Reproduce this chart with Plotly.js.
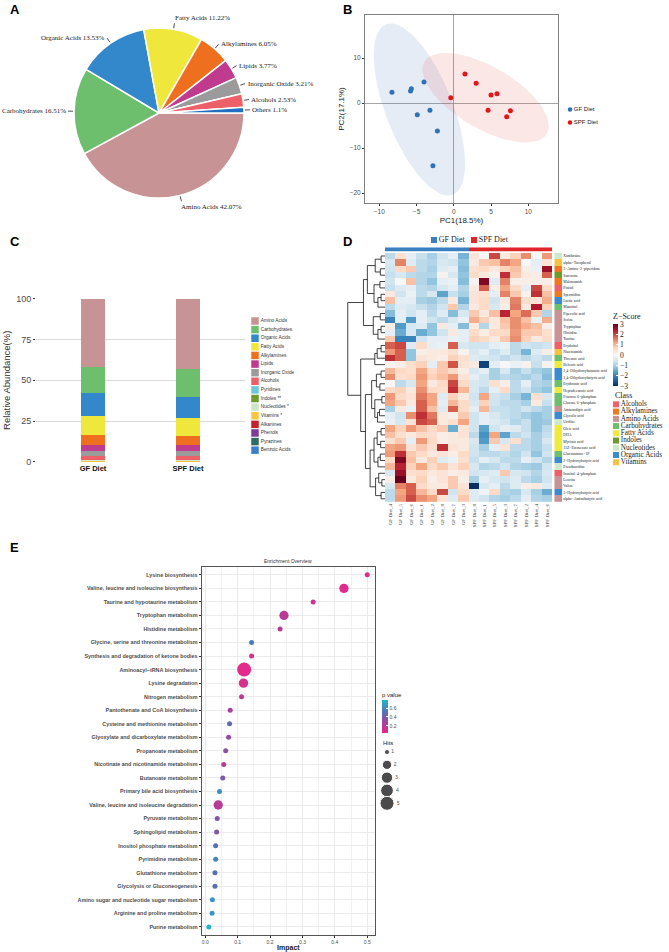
<!DOCTYPE html>
<html><head><meta charset="utf-8">
<script src="https://cdn.plot.ly/plotly-3.0.1.min.js"></script>
<style>html,body{margin:0;padding:0;background:#fff}</style>
</head><body><div id="chart" style="width:669px;height:952px"></div>
<script>
// ---------------- DATA ----------------
// Panel A
const pieLabels = ['Amino Acids','Carbohydrates','Organic Acids','Fatty Acids','Alkylamines','Lipids','Inorganic Oxide','Alcohols','Others'];
const pieValues = [42.07,16.51,13.53,11.22,6.05,3.77,3.21,2.53,1.1];
const pieColors = ['#C79395','#6DBE6D','#3288CB','#F0E73C','#EE6F1E','#C03A8E','#9B9B9B','#EE6068','#1F6EBF'];

// Panel B
const gfPC1 = [-8.3,-5.7,-5.8,-4.0,-3.2,-4.9,-2.2,-2.8];
const gfPC2 = [2.4,3.2,2.7,4.7,-1.6,-2.6,-6.2,-13.9];
const spfPC1 = [-0.4,1.5,3.0,5.0,5.8,4.6,7.6,7.1];
const spfPC2 = [1.2,6.5,4.4,1.8,2.1,-1.6,-1.7,-3.0];
const groupNames = ['GF Diet','SPF Diet'];
const F_095_2_7 = 4.737; // qf(0.95, 2, n-1) for n = 8

// Panel C
const barX = ['GF Diet','SPF Diet'];
const barCategories = ['Amino Acids','Carbohydrates','Organic Acids','Fatty Acids','Alkylamines','Lipids','Inorganic Oxide','Alcohols','Pyridines','Indoles **','Nucleotides *','Vitamins *','Alkanines','Phenols','Pyrazines','Benzoic Acids'];
const barGF  = [41.7,16.0,14.0,11.8,6.3,3.7,3.2,2.1,0.15,0.2,0.45,0.25,0.05,0.04,0.03,0.03];
const barSPF = [42.9,17.1,13.0,10.9,5.7,3.7,3.4,2.1,0.15,0.1,0.55,0.3,0.04,0.03,0.02,0.01];
const barColors = ['#C79395','#6DBE6D','#3288CB','#F0E73C','#EE6F1E','#C03A8E','#9B9B9B','#EE6068','#6EC6D6','#6E9A2E','#CDE6C8','#F7C744','#C3222A','#7E3D98','#2E6B66','#3C7FC6'];

// Panel D
const colNames = ['GF Diet_4','GF Diet_5','GF Diet_6','GF Diet_1','GF Diet_2','GF Diet_8','GF Diet_7','GF Diet_3','SPF Diet_8','SPF Diet_1','SPF Diet_5','SPF Diet_3','SPF Diet_7','SPF Diet_2','SPF Diet_4','SPF Diet_6'];
const rowNames = ['Xanthosine','alpha−Tocopherol','3−Amino−2−piperidone','Sarcosine','Malonamide','Pinitol','Spermidine','Lactic acid','Mannitol','Pipecolic acid','Serine','Tryptophan','Histidine','Taurine','Erythritol','Niacinamide','Threonic acid','Behenic acid','2,4−Dihydroxybutanoic acid','3,4−Dihydroxybutyric acid','Erythronic acid','Heptadecanoic acid','Fructose 6−phosphate','Glucose 6−phosphate','Aminoadipic acid','Glycolic acid','Uridine','Oleic acid','DHA','Myristic acid','11Z−Eicosenoic acid','Glucosamine−1P','2−Hydroxybutyric acid','Pseudouridine','Inositol−4−phosphate','Leucine','Valine','3−Hydroxybutyric acid','alpha−Aminobutyric acid'];
const rowClass = ['Nucleotides','Vitamins','Alkylamines','Indoles','Alkylamines','Alcohols','Alkylamines','Organic Acids','Carbohydrates','Amino Acids','Amino Acids','Amino Acids','Amino Acids','Amino Acids','Alcohols','Vitamins','Carbohydrates','Fatty Acids','Organic Acids','Organic Acids','Carbohydrates','Fatty Acids','Carbohydrates','Carbohydrates','Amino Acids','Organic Acids','Nucleotides','Fatty Acids','Fatty Acids','Fatty Acids','Fatty Acids','Carbohydrates','Organic Acids','Nucleotides','Alcohols','Amino Acids','Amino Acids','Organic Acids','Amino Acids'];
const classNames = ['Alcohols','Alkylamines','Amino Acids','Carbohydrates','Fatty Acids','Indoles','Nucleotides','Organic Acids','Vitamins'];
const classColors = ['#F0606A','#F07820','#C99294','#6CBF6C','#F0EA3C','#6E9A2E','#CFE8C9','#3A8BD0','#F5C243'];
const zScores = [
 [-0.8,0.5,-0.3,-0.7,-1.0,-0.6,-0.3,-1.4,0.4,0.0,2.0,0.3,0.7,1.4,0.0,1.3],
 [-0.5,1.5,-0.4,-0.8,-0.9,-0.5,-0.6,-1.2,0.3,0.8,0.9,1.5,1.2,0.0,-0.3,0.4],
 [-0.6,0.6,0.8,-0.8,-1.0,-0.4,-0.3,-1.3,0.5,0.6,0.3,0.7,0.9,0.2,-0.2,2.6],
 [-0.7,-0.5,-0.8,-0.9,-0.9,0.1,-0.5,-1.2,0.6,0.3,0.1,2.2,0.8,0.3,0.2,1.8],
 [-0.6,0.0,0.9,-0.9,-1.2,-0.3,-0.2,-1.3,0.1,2.8,-0.4,1.5,0.2,0.2,0.2,0.2],
 [-0.7,-0.4,-0.3,-0.8,-0.9,-0.5,-0.3,-0.9,0.3,1.8,0.2,1.2,0.6,-0.3,2.0,0.6],
 [0.3,-0.6,-0.2,-0.8,-0.5,-1.6,-0.7,-1.0,0.4,0.5,-0.3,1.5,0.8,0.1,2.2,0.9],
 [0.9,-0.3,-0.3,-1.0,-1.1,-0.8,0.3,-1.4,0.4,0.6,-0.6,0.3,1.5,0.5,0.4,1.1],
 [-0.8,-0.4,-0.5,-0.7,-0.9,-0.6,0.8,-0.9,0.3,0.6,-0.5,0.2,1.6,0.3,2.4,0.7],
 [-1.3,-0.3,-0.6,-0.3,-0.8,-0.4,-1.3,-0.5,0.8,0.3,0.9,2.3,1.2,1.7,0.8,-0.9],
 [-2.0,-0.3,-1.7,-0.3,-0.6,-0.8,-0.5,-0.2,1.1,0.7,0.3,0.9,1.4,0.9,-0.2,1.1],
 [0.2,-1.7,-0.5,-0.4,-1.2,0.3,-0.3,-1.3,0.3,-0.9,0.3,0.8,1.4,1.1,0.9,0.2],
 [-0.3,-1.5,-0.5,-1.5,-1.2,-0.6,0.3,-0.3,0.6,0.2,0.6,0.6,1.3,0.8,0.8,0.5],
 [0.8,-2.0,-2.0,-0.6,-0.3,-0.3,-0.2,-0.3,0.7,0.6,0.3,0.8,1.4,0.7,0.3,0.6],
 [1.8,2.0,-0.4,0.6,-0.3,-0.2,1.8,-0.5,-0.6,-0.6,-0.3,-0.2,-0.8,-0.6,-0.7,-0.6],
 [1.3,1.8,-1.2,0.2,0.3,0.3,0.5,0.1,-0.5,-0.3,-0.7,-0.4,-0.8,-1.4,-0.4,0.2],
 [2.2,1.8,-1.2,0.4,0.3,0.2,0.7,0.5,-0.4,-0.5,-0.6,-0.8,-0.6,-0.8,-0.6,-0.8],
 [0.1,0.2,0.5,0.7,-0.3,0.8,1.9,0.4,0.3,-2.8,-0.3,0.0,-0.2,0.1,-0.7,0.1],
 [1.0,0.6,0.5,1.2,0.6,0.8,0.6,0.2,-0.5,-0.3,-1.0,-0.5,-1.0,-0.7,-1.0,-1.2],
 [1.4,0.5,0.6,1.3,0.7,0.9,1.3,0.4,-0.3,-0.6,-1.0,-0.8,-0.9,-1.0,-0.8,-1.3],
 [0.0,-0.8,-0.5,1.2,0.3,0.6,2.0,0.6,-0.5,-0.6,0.5,0.2,-0.8,-0.3,-0.9,-1.0],
 [0.6,0.7,0.3,1.4,0.6,0.5,2.2,1.0,-0.5,-0.8,-0.3,0.6,-0.8,-0.6,-1.0,-1.2],
 [1.3,0.6,0.4,1.6,1.2,-0.4,0.7,0.3,-0.6,1.2,-0.6,-0.7,-1.0,-1.4,0.5,-0.5],
 [1.2,0.8,0.3,1.8,1.2,-0.3,1.0,0.6,-0.5,0.7,-0.6,-0.8,-0.8,-1.0,0.3,-0.7],
 [-1.0,0.3,-0.2,1.8,0.9,-0.4,1.8,0.6,-0.3,1.0,-0.7,-0.7,-0.8,-0.6,-0.8,-1.0],
 [-0.3,-0.6,1.4,2.2,1.6,0.3,0.2,0.8,-0.6,-0.3,-0.5,-0.7,-0.8,-1.0,-1.2,-1.0],
 [-0.2,-0.5,0.4,2.0,1.8,0.3,0.5,1.2,-0.6,-0.3,-0.4,-0.6,-0.9,-0.7,-1.2,-1.1],
 [1.2,0.7,1.3,0.9,0.6,0.8,-1.5,0.4,-0.6,-1.6,-0.6,-0.3,-0.4,-0.7,-1.2,-0.8],
 [0.9,0.5,0.3,0.6,0.5,0.2,0.3,0.4,-0.8,-1.8,1.2,-1.6,-0.8,-0.6,-1.0,-0.7],
 [0.5,0.8,-0.3,1.3,0.6,0.2,0.3,0.3,-0.5,-1.7,0.8,-0.5,0.5,-0.8,-1.0,-0.5],
 [1.2,1.3,0.4,0.8,0.5,2.2,0.4,0.3,-0.6,-1.0,-0.3,0.4,-0.8,-0.8,-1.0,-0.7],
 [1.3,2.2,0.8,0.6,0.3,0.4,0.2,0.6,-0.6,-0.8,-0.8,-0.7,-0.9,-0.6,-1.2,-0.6],
 [0.6,2.8,0.9,0.3,0.7,-0.4,-0.2,0.5,-0.7,-0.3,-0.5,-0.8,-0.8,-0.3,-0.6,-0.9],
 [1.0,2.3,0.7,1.2,0.6,0.8,0.4,0.7,-0.5,-0.9,-0.8,-0.6,-0.9,-1.0,-1.1,-0.6],
 [-0.5,2.6,0.5,0.6,0.3,0.4,0.2,0.3,-0.6,-0.5,-0.4,0.8,-0.5,-0.6,-0.9,-0.5],
 [0.2,3.0,0.3,0.7,0.2,0.4,0.8,0.2,-1.0,-0.3,-0.5,-0.6,-0.4,-0.8,-1.0,-0.6],
 [-0.5,1.5,1.8,0.6,0.3,0.3,0.8,0.4,-3.0,-0.5,-0.3,-0.8,-0.4,0.2,0.3,-0.4],
 [-0.8,1.2,1.8,1.0,0.6,2.0,-0.6,0.6,-0.4,-0.1,0.6,-0.9,-1.0,-0.5,-1.0,-1.5],
 [-0.8,1.3,2.0,1.4,1.2,0.4,-0.4,0.8,-0.4,-0.6,-0.9,-1.0,-0.8,-0.3,-0.9,-1.0]
];
// dendrogram: [height, left, right]; leaves are row indices
const dendroTree = [9.5,
  [5.5,
    [4.5,
      [2.5,[1.0,0,1],[1.2,2,3]],
      [2.8,[1.3,4,5],[1.8,[1.0,6,7],8]]
    ],
    [3.0,[1.2,9,10],[1.8,[1.0,11,12],13]]
  ],
  [6.2,
    [2.6,[2.0,[1.0,14,15],16],17],
    [5.0,
      [3.4,[2.2,[1.0,18,19],[1.3,20,21]],[2.6,[0.8,22,23],[1.9,[1.4,24,25],26]]],
      [3.8,[2.8,[2.0,[1.0,27,28],[1.1,29,30]],[1.8,[1.2,31,32],33]],[2.4,[1.6,34,[0.8,35,36]],[1.0,37,38]]]
    ]
  ]
];
const groupColors = ['#3A7FC0','#E0262A'];

// Panel E
const pathways = ['Lysine biosynthesis','Valine, leucine and isoleucine biosynthesis','Taurine and hypotaurine metabolism','Tryptophan metabolism','Histidine metabolism','Glycine, serine and threonine metabolism','Synthesis and degradation of ketone bodies','Aminoacyl−tRNA biosynthesis','Lysine degradation','Nitrogen metabolism','Pantothenate and CoA biosynthesis','Cysteine and methionine metabolism','Glyoxylate and dicarboxylate metabolism','Propanoate metabolism','Nicotinate and nicotinamide metabolism','Butanoate metabolism','Primary bile acid biosynthesis','Valine, leucine and isoleucine degradation','Pyruvate metabolism','Sphingolipid metabolism','Inositol phosphate metabolism','Pyrimidine metabolism','Glutathione metabolism','Glycolysis or Gluconeogenesis','Amino sugar and nucleotide sugar metabolism','Arginine and proline metabolism','Purine metabolism'];
const impact = [0.50,0.428,0.333,0.243,0.231,0.143,0.143,0.120,0.118,0.112,0.077,0.075,0.072,0.063,0.057,0.054,0.044,0.040,0.037,0.035,0.032,0.032,0.030,0.030,0.022,0.021,0.011];
const hits = [1,2,1,2,1,1,1,5,2,1,1,1,1,1,1,1,1,2,1,1,1,1,1,1,1,1,1];
const pvals = [0.08,0.06,0.12,0.20,0.22,0.55,0.12,0.05,0.10,0.18,0.25,0.45,0.32,0.35,0.20,0.40,0.62,0.20,0.38,0.38,0.50,0.60,0.50,0.50,0.65,0.65,0.75];
const hitLevels = [1,2,3,4,5];

// ---------------- HELPERS ----------------
const W = 669, H = 952;
const X = (a,b) => [a/W, b/W];
const Y = (t,b) => [1-b/H, 1-t/H];
const serif = 'Liberation Serif, Times New Roman, serif';
const sans = 'Liberation Sans, Arial, sans-serif';
const hitSize = {1:5, 2:9.3, 3:11.3, 4:12.7, 5:14};

const traces = [];
const annotations = [];
const shapes = [];

// ---------------- A: PIE ----------------
const pieC = [159,113], pieR = 85;
traces.push({type:'pie', labels:pieLabels, values:pieValues, sort:false, direction:'clockwise', rotation:90,
  marker:{colors:pieColors, line:{color:'#ffffff', width:1.5}}, textinfo:'none', hoverinfo:'label+value',
  domain:{x:X(pieC[0]-pieR, pieC[0]+pieR), y:Y(pieC[1]-pieR, pieC[1]+pieR)}, showlegend:false});
(function(){
  const tot = pieValues.reduce((a,b)=>a+b,0); let cum = 0;
  pieValues.forEach((v,i)=>{
    const a = (cum + v/2)/tot*2*Math.PI; cum += v;
    const c = Math.cos(a), s = Math.sin(a);
    const x0 = pieC[0] + (pieR+1)*c, y0 = pieC[1] + (pieR+1)*s;
    const x1 = pieC[0] + (pieR+6)*c, y1 = pieC[1] + (pieR+6)*s;
    shapes.push({type:'line', xref:'paper', yref:'paper', x0:x0/W, y0:1-y0/H, x1:x1/W, y1:1-y1/H, line:{color:'#222', width:0.8}});
    const vert = Math.abs(s) > 0.9;
    const tx = x1 + (vert ? -1 : (c>=0 ? 1.5 : -1.5));
    const ty = y1 + (vert ? (s<0 ? -0.5 : 0.5) : 0);
    annotations.push({xref:'paper', yref:'paper', x:tx/W, y:1-ty/H, text:pieLabels[i]+' '+v+'%', showarrow:false,
      xanchor: (c>=0 || vert) ? 'left' : 'right', yanchor: vert ? (s<0?'bottom':'top') : 'middle',
      font:{family:serif, size:7, color:'#222'}, borderpad:0});
  });
})();

// ---------------- B: PCA ----------------
function ellipse(xs, ys){
  const n = xs.length;
  const mx = xs.reduce((a,b)=>a+b,0)/n, my = ys.reduce((a,b)=>a+b,0)/n;
  let sxx=0, syy=0, sxy=0;
  for(let i=0;i<n;i++){ sxx+=(xs[i]-mx)**2; syy+=(ys[i]-my)**2; sxy+=(xs[i]-mx)*(ys[i]-my); }
  sxx/=(n-1); syy/=(n-1); sxy/=(n-1);
  const l11 = Math.sqrt(sxx), l21 = sxy/l11, l22 = Math.sqrt(syy - l21*l21);
  const sc = Math.sqrt(2*F_095_2_7);
  const ex=[], ey=[];
  for(let k=0;k<=100;k++){ const t=k/100*2*Math.PI; ex.push(mx+sc*l11*Math.cos(t)); ey.push(my+sc*(l21*Math.cos(t)+l22*Math.sin(t))); }
  return [ex, ey];
}
const eg = ellipse(gfPC1, gfPC2), es = ellipse(spfPC1, spfPC2);
traces.push({type:'scatter', mode:'lines', x:eg[0], y:eg[1], fill:'toself', fillcolor:'rgba(70,120,190,0.14)', line:{width:0}, hoverinfo:'skip', xaxis:'x', yaxis:'y'});
traces.push({type:'scatter', mode:'lines', x:es[0], y:es[1], fill:'toself', fillcolor:'rgba(232,70,70,0.13)', line:{width:0}, hoverinfo:'skip', xaxis:'x', yaxis:'y'});
traces.push({type:'scatter', mode:'markers', x:gfPC1, y:gfPC2, name:groupNames[0], marker:{color:'#2F72B5', size:5}, xaxis:'x', yaxis:'y'});
traces.push({type:'scatter', mode:'markers', x:spfPC1, y:spfPC2, name:groupNames[1], marker:{color:'#E0161B', size:5}, xaxis:'x', yaxis:'y'});
// legend B
traces.push({type:'scatter', mode:'markers+text', x:[0,0], y:groupNames, text:groupNames, textposition:'middle right',
  textfont:{family:sans, size:6, color:'#222'}, marker:{color:['#2F72B5','#E0161B'], size:4.5}, xaxis:'x2', yaxis:'y2', cliponaxis:false, hoverinfo:'skip'});

// ---------------- C: STACKED BARS ----------------
for(let i=barCategories.length-1;i>=0;i--){
  traces.push({type:'bar', x:barX, y:[barGF[i], barSPF[i]], name:barCategories[i], marker:{color:barColors[i], line:{width:0}}, xaxis:'x3', yaxis:'y3'});
}
traces.push({type:'scatter', mode:'markers+text', x:barCategories.map(()=>0), y:barCategories.map((_,i)=>i), text:barCategories,
  textposition:'middle right', textfont:{family:sans, size:4.8, color:'#333'}, marker:{symbol:'square', size:7.5, color:barColors},
  xaxis:'x4', yaxis:'y4', cliponaxis:false, hoverinfo:'skip'});

// ---------------- D: HEATMAP ----------------
const rowIdx = rowNames.map((_,i)=>i);
traces.push({type:'heatmap', z:zScores, x:colNames, y:rowIdx, zmin:-3, zmax:3, xaxis:'x5', yaxis:'y5',
  colorscale:[[0,'#053061'],[0.1,'#2166AC'],[0.2,'#4393C3'],[0.3,'#92C5DE'],[0.4,'#D1E5F0'],[0.5,'#F7F7F7'],[0.6,'#FDDBC7'],[0.7,'#F4A582'],[0.8,'#D6604D'],[0.9,'#B2182B'],[1,'#67001F']],
  colorbar:{x:613/W, xanchor:'left', y:1-348/H, yanchor:'middle', len:76, lenmode:'pixels', thickness:5, thicknessmode:'pixels',
    outlinewidth:0, tickvals:[-3,-2,-1,0,1,2,3], ticktext:['−3','−2','−1','0','1','2','3'], ticks:'inside', ticklen:2, tickcolor:'#fff',
    tickfont:{family:serif, size:7.5, color:'#222'}, title:{text:'Z−Score', side:'top', font:{family:serif, size:8, color:'#222'}}, xpad:0, ypad:0}});
// row class annotation
const nCls = classNames.length;
const clsScale = [];
classColors.forEach((c,i)=>{ clsScale.push([i/nCls, c]); clsScale.push([(i+1)/nCls, c]); });
traces.push({type:'heatmap', z:rowClass.map(c=>[classNames.indexOf(c)]), x:[0], y:rowIdx, zmin:-0.5, zmax:nCls-0.5,
  colorscale:clsScale, showscale:false, xaxis:'x6', yaxis:'y5', hoverinfo:'skip'});
// column group annotation
traces.push({type:'heatmap', z:[colNames.map(n=>n.startsWith('GF')?0:1)], x:colNames, y:[0], zmin:0, zmax:1,
  colorscale:[[0,groupColors[0]],[0.5,groupColors[0]],[0.5,groupColors[1]],[1,groupColors[1]]], showscale:false, xaxis:'x5', yaxis:'y8', hoverinfo:'skip'});
// dendrogram
(function(){
  const dx=[], dy=[];
  function walk(node){
    if(typeof node === 'number') return {y:node, h:0};
    const a = walk(node[1]), b = walk(node[2]), h = node[0];
    dx.push(a.h, h, h, b.h, null); dy.push(a.y, a.y, b.y, b.y, null);
    return {y:(a.y+b.y)/2, h:h};
  }
  walk(dendroTree);
  traces.push({type:'scatter', mode:'lines', x:dx, y:dy, line:{color:'#111', width:0.8}, xaxis:'x7', yaxis:'y5', hoverinfo:'skip', cliponaxis:false});
})();
// top legend D
traces.push({type:'scatter', mode:'markers+text', x:[0,1], y:[0,0], text:groupNames, textposition:'middle right',
  textfont:{family:serif, size:8, color:'#222'}, marker:{symbol:'square', size:6, color:groupColors}, xaxis:'x9', yaxis:'y9', cliponaxis:false, hoverinfo:'skip'});
// class legend D
traces.push({type:'scatter', mode:'markers+text', x:classNames.map(()=>0), y:classNames.map((_,i)=>i), text:classNames, textposition:'middle right',
  textfont:{family:serif, size:7.2, color:'#222'}, marker:{symbol:'square', size:6, color:classColors}, xaxis:'x10', yaxis:'y10', cliponaxis:false, hoverinfo:'skip'});

// ---------------- E: ENRICHMENT ----------------
traces.push({type:'scatter', mode:'markers', x:impact, y:pathways, xaxis:'x11', yaxis:'y11',
  marker:{size:hits.map(h=>hitSize[h]), color:pvals, cmin:0.04, cmax:0.78, opacity:1, line:{width:0},
    colorscale:[[0,'#E8288A'],[0.35,'#9B47A0'],[0.65,'#4F74B8'],[1,'#22B8C8']],
    colorbar:{x:382/W, xanchor:'left', y:1-711/H, yanchor:'middle', len:44, lenmode:'pixels', thickness:6, thicknessmode:'pixels',
      outlinewidth:0, tickvals:[0.2,0.4,0.6], ticks:'inside', ticklen:2, tickcolor:'#fff', tickfont:{family:sans, size:5, color:'#4d4d4d'},
      title:{text:'p value', side:'top', font:{family:sans, size:6, color:'#222'}}, xpad:0, ypad:0}}});
traces.push({type:'scatter', mode:'markers+text', x:hitLevels.map(()=>0), y:hitLevels, text:hitLevels.map(String), textposition:'middle right',
  textfont:{family:sans, size:5, color:'#4d4d4d'}, marker:{size:hitLevels.map(h=>hitSize[h]), color:'#000'}, xaxis:'x12', yaxis:'y12', cliponaxis:false, hoverinfo:'skip'});

// ---------------- ANNOTATIONS ----------------
[['A',8,10],['B',341,10],['C',8,241],['D',341,241],['E',8,547]].forEach(p=>{
  annotations.push({xref:'paper', yref:'paper', x:p[1]/W, y:1-p[2]/H, text:'<b>'+p[0]+'</b>', showarrow:false, xanchor:'left', yanchor:'middle', font:{family:sans, size:13, color:'#000'}});
});
annotations.push({xref:'paper', yref:'paper', x:613/W, y:1-395.7/H, text:'Class', showarrow:false, xanchor:'left', yanchor:'middle', font:{family:serif, size:8, color:'#222'}});
annotations.push({xref:'paper', yref:'paper', x:288/W, y:1-561/H, text:'Enrichment Overview', showarrow:false, xanchor:'center', yanchor:'middle', font:{family:sans, size:5, color:'#333'}});
annotations.push({xref:'paper', yref:'paper', x:381/W, y:1-743/H, text:'Hits', showarrow:false, xanchor:'left', yanchor:'middle', font:{family:sans, size:6, color:'#222'}});

// ---------------- LAYOUT ----------------
const hid = (dom, rng, anchor, extra) => Object.assign({domain:dom, range:rng, anchor:anchor, visible:false, fixedrange:true}, extra||{});
const layout = {
  width:W, height:H, margin:{l:0,r:0,t:0,b:0}, paper_bgcolor:'#fff', plot_bgcolor:'rgba(0,0,0,0)', showlegend:false,
  font:{family:sans, color:'#333'}, barmode:'stack', bargap:0.75, annotations:annotations, shapes:shapes, hovermode:'closest',
  // B
  xaxis:{domain:X(365,558), range:[-11.92,13.99], anchor:'y', showline:true, mirror:true, linecolor:'#808080', linewidth:1, showgrid:false,
    zeroline:true, zerolinecolor:'#A6A6A6', zerolinewidth:1, ticks:'outside', ticklen:2, tickcolor:'#333', tickvals:[-10,-5,0,5,10],
    tickfont:{size:6.5, color:'#4d4d4d'}, title:{text:'PC1(18.5%)', font:{size:8, color:'#222'}, standoff:3}},
  yaxis:{domain:Y(15,203), range:[-22.2,19.6], anchor:'x', showline:true, mirror:true, linecolor:'#808080', linewidth:1, showgrid:false,
    zeroline:true, zerolinecolor:'#A6A6A6', zerolinewidth:1, ticks:'outside', ticklen:2, tickcolor:'#333', tickvals:[-20,-10,0,10],
    tickfont:{size:6.5, color:'#4d4d4d'}, title:{text:'PC2(17.1%)', font:{size:8, color:'#222'}, standoff:3}},
  xaxis2:hid(X(566,640), [-0.5,8.75], 'y2'),
  yaxis2:hid(Y(103,129), [1.5,-0.5], 'x2', {type:'category'}),
  // C
  xaxis3:{domain:X(36,245), type:'category', range:[-0.6,1.6], anchor:'y3', showgrid:false, showline:false, zeroline:false, ticks:'',
    tickfont:{size:7.5, color:'#111', weight:'bold'}},
  yaxis3:{domain:Y(298.3,462.3), range:[-0.3,100.3], anchor:'x3', tickvals:[0,25,50,75,100], showgrid:true, gridcolor:'#D9D9D9', gridwidth:1,
    zeroline:false, showline:false, ticks:'outside', ticklen:2, tickcolor:'#333', tickfont:{size:9, color:'#4d4d4d'},
    title:{text:'Relative Abundance(%)', font:{size:9.5, color:'#333'}, standoff:3}},
  xaxis4:hid(X(251,330), [-0.5,9.375], 'y4'),
  yaxis4:hid(Y(316.7,454.5), [15.5,-0.5], 'x4'),
  // D
  xaxis5:{domain:X(385,552.3), type:'category', anchor:'y5', showgrid:false, zeroline:false, showline:false, ticks:'', tickangle:-90,
    tickfont:{family:serif, size:5, color:'#333'}, fixedrange:true},
  yaxis5:{domain:Y(252.8,502), range:[38.5,-0.5], anchor:'x6', side:'right', tickmode:'array', tickvals:rowIdx, ticktext:rowNames,
    showgrid:false, zeroline:false, showline:false, ticks:'', tickfont:{family:serif, size:3.8, color:'#222'}, fixedrange:true},
  xaxis6:hid(X(554.3,562.3), [-0.5,0.5], 'y5'),
  xaxis7:hid(X(347,385), [9.7,0], 'y5'),
  yaxis8:hid(Y(247.3,251.7), [-0.5,0.5], 'x5'),
  xaxis9:hid(X(428,530), [-0.15,2.4], 'y9'),
  yaxis9:hid(Y(236,244), [-0.5,0.5], 'x9'),
  xaxis10:hid(X(612,668), [-0.5,6.5], 'y10'),
  yaxis10:hid(Y(400.7,465.9), [8.5,-0.5], 'x10'),
  // E
  xaxis11:{domain:X(201.7,375), range:[-0.011,0.524], anchor:'y11', tickvals:[0,0.1,0.2,0.3,0.4,0.5], tickformat:'.1f',
    showgrid:true, gridcolor:'#EBEBEB', gridwidth:1, minor:{dtick:0.05, showgrid:true, gridcolor:'#EBEBEB', gridwidth:0.7},
    showline:true, mirror:true, linecolor:'#555', linewidth:1, zeroline:false, ticks:'outside', ticklen:2, tickcolor:'#333',
    tickfont:{size:5, color:'#4d4d4d'}, title:{text:'Impact', font:{size:7, color:'#222', weight:'bold'}, standoff:2}},
  yaxis11:{domain:Y(566.7,935), type:'category', categoryorder:'array', categoryarray:pathways, range:[26.6,-0.6], anchor:'x11',
    showgrid:true, gridcolor:'#EBEBEB', gridwidth:1, showline:true, mirror:true, linecolor:'#555', linewidth:1, zeroline:false,
    ticks:'outside', ticklen:2, tickcolor:'#333', tickfont:{size:5.4, color:'#4d4d4d', weight:'bold'}},
  xaxis12:hid(X(383,420), [-0.5,4.125], 'y12'),
  yaxis12:hid(Y(745.6,809.7), [5.5,0.5], 'x12')
};

Plotly.newPlot('chart', traces, layout, {displayModeBar:false, staticPlot:true});
</script>
</body></html>
